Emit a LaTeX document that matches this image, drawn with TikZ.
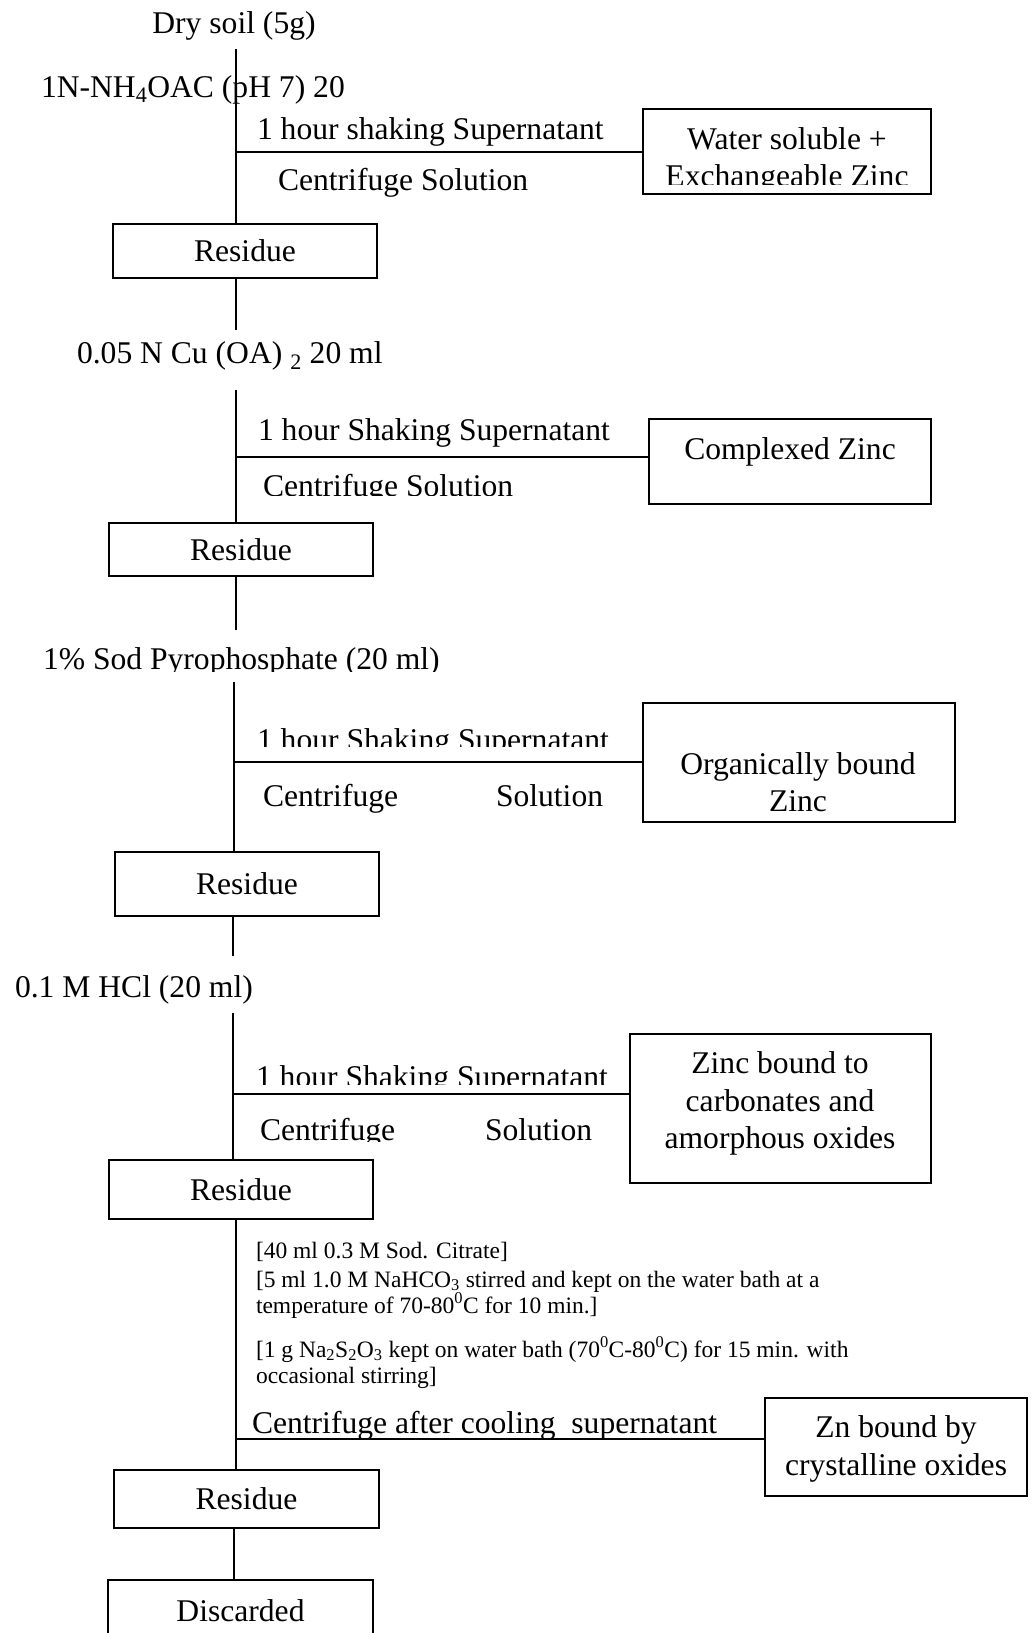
\documentclass[tikz,border=0pt]{standalone}
\usepackage{fontspec}
\setmainfont{Liberation Serif}
\begin{document}
\begin{tikzpicture}[x=1pt,y=-1pt,
  every node/.style={inner sep=0pt,outer sep=0pt,font=\fontsize{31.6}{37}\selectfont},
  box/.style={draw,line width=2.4pt,align=center},
  lbl/.style={anchor=base west},
  ctr/.style={anchor=base},
  small/.style={anchor=base west,font=\fontsize{23.5}{27}\selectfont},
  conn/.style={line width=1.8pt}]
\clip (0,0) rectangle (1033,1633);
\fill[white] (0,0) rectangle (1033,1633);

% ---- step 1
\node[ctr] (dry) at (234,33) {Dry soil (5g)};
\node[lbl] (t1) at (41,97) {1N-NH\textsubscript{4}OAC (pH 7) 20};
\node[box,minimum width=264pt,minimum height=54pt] (r1) at (245,251) {Residue};
\node[box,minimum width=288pt,minimum height=85pt] (w1) at (787,151.5) {};
\begin{scope}
  \clip (643,109) rectangle (931,184);
  \node[ctr] (w1a) at (787,149) {Water soluble +};
  \node[ctr] (w1b) at (787,186) {Exchangeable Zinc};
\end{scope}
\node[lbl] (s1a) at (257,139) {1 hour shaking Supernatant};
\node[lbl] (s1b) at (278,190) {Centrifuge Solution};
\coordinate (a1) at (236,49);
\coordinate (j1) at (236,152);
\draw[conn] (a1) -- (a1 |- r1.north);
\draw[conn] (j1) -- (j1 -| w1.west);

% ---- step 2
\coordinate (b1) at (236,330);
\draw[conn] (b1 |- r1.south) -- (b1);
\node[lbl] (t2) at (77,363) {0.05 N Cu (OA) \textsubscript{2} 20 ml};
\node[box,minimum width=264pt,minimum height=53pt] (r2) at (241,549.5) {Residue};
\node[box,minimum width=282pt,minimum height=85pt] (w2) at (790,461.5) {};
\node[ctr] (w2a) at (790,459) {Complexed Zinc};
\node[lbl] (s2a) at (258,440) {1 hour Shaking Supernatant};
\begin{scope}
  \clip (250,400) rectangle (620,495);
  \node[lbl] (s2b) at (263,496) {Centrifuge Solution};
\end{scope}
\coordinate (a2) at (236,390);
\coordinate (j2) at (236,457);
\draw[conn] (a2) -- (a2 |- r2.north);
\draw[conn] (j2) -- (j2 -| w2.west);

% ---- step 3
\coordinate (b2) at (236,630);
\draw[conn] (b2 |- r2.south) -- (b2);
\begin{scope}
  \clip (30,630) rectangle (500,671);
  \node[lbl] (t3) at (43,669) {1\% Sod Pyrophosphate (20 ml)};
\end{scope}
\node[box,minimum width=264pt,minimum height=64pt] (r3) at (247,884) {Residue};
\node[box,minimum width=312pt,minimum height=119pt] (w3) at (799,762.5) {};
\node[ctr] (w3a) at (798,774) {Organically bound};
\node[ctr] (w3b) at (798,811) {Zinc};
\begin{scope}
  \clip (250,700) rectangle (630,746);
  \node[lbl] (s3a) at (257,750) {1 hour Shaking Supernatant};
\end{scope}
\node[lbl] (s3b) at (263,806) {Centrifuge};
\node[lbl] (s3c) at (496,806) {Solution};
\coordinate (a3) at (234,682);
\coordinate (j3) at (234,762);
\draw[conn] (a3) -- (a3 |- r3.north);
\draw[conn] (j3) -- (j3 -| w3.west);

% ---- step 4
\coordinate (b3) at (233,956);
\draw[conn] (b3 |- r3.south) -- (b3);
\node[lbl] (t4) at (15,997) {0.1 M HCl (20 ml)};
\node[box,minimum width=264pt,minimum height=59pt] (r4) at (241,1189.5) {Residue};
\node[box,minimum width=301pt,minimum height=149pt] (w4) at (780.5,1108.5) {};
\node[ctr] (w4a) at (780,1073) {Zinc bound to};
\node[ctr] (w4b) at (780,1111) {carbonates and};
\node[ctr] (w4c) at (780,1148) {amorphous oxides};
\begin{scope}
  \clip (250,1030) rectangle (625,1084);
  \node[lbl] (s4a) at (256,1087) {1 hour Shaking Supernatant};
\end{scope}
\begin{scope}
  \clip (250,1100) rectangle (625,1141);
  \node[lbl] (s4b) at (260,1140) {Centrifuge};
  \node[lbl] (s4c) at (485,1140) {Solution};
\end{scope}
\coordinate (a4) at (233,1013);
\coordinate (j4) at (233,1094);
\draw[conn] (a4) -- (a4 |- r4.north);
\draw[conn] (j4) -- (j4 -| w4.west);

% ---- step 5
\node[small] (c1) at (256,1258) {[40 ml 0.3 M Sod. Citrate]};
\node[small] (c2) at (256,1287) {[5 ml 1.0 M NaHCO\textsubscript{3} stirred and kept on the water bath at a};
\node[small] (c3) at (256,1313) {temperature of 70-80\textsuperscript{0}C for 10 min.]};
\node[small] (c4) at (256,1357) {[1 g Na\textsubscript{2}S\textsubscript{2}O\textsubscript{3} kept on water bath (70\textsuperscript{0}C-80\textsuperscript{0}C) for 15 min. with};
\node[small] (c5) at (256,1383) {occasional stirring]};
\node[lbl] (s5) at (252,1433) {Centrifuge after cooling\ \ supernatant};
\node[box,minimum width=262pt,minimum height=98pt] (w5) at (896,1447) {};
\node[ctr] (w5a) at (896,1437) {Zn bound by};
\node[ctr] (w5b) at (896,1475) {crystalline oxides};
\node[box,minimum width=265pt,minimum height=58pt] (r5) at (246.5,1499) {Residue};
\node[box,minimum width=265pt,minimum height=62pt] (dis) at (240.5,1611) {Discarded};
\coordinate (a5) at (236,1219);
\coordinate (j5) at (236,1439);
\draw[conn] (a5 |- r4.south) -- (a5 |- r5.north);
\draw[conn] (j5) -- (j5 -| w5.west);
\coordinate (a6) at (234,1528);
\draw[conn] (a6 |- r5.south) -- (a6 |- dis.north);
\end{tikzpicture}
\end{document}
